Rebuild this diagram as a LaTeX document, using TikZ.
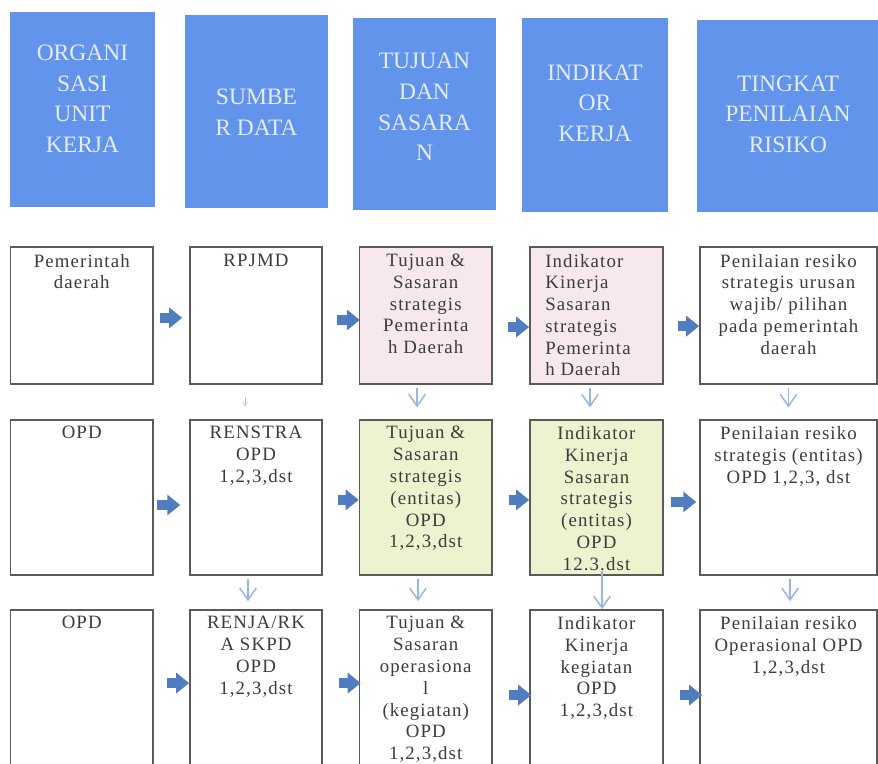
\documentclass[tikz,border=0pt]{standalone}
\usepackage{fontspec}
\setmainfont{Liberation Serif}
\newfontfamily\cellfont[LetterSpace=6]{Liberation Serif}
\usetikzlibrary{arrows.meta,positioning}

\definecolor{headblue}{RGB}{99,148,236}
\definecolor{headtext}{RGB}{226,236,250}
\definecolor{cellline}{RGB}{90,90,90}
\definecolor{celltext}{RGB}{60,60,60}
\definecolor{pinkfill}{RGB}{246,232,236}
\definecolor{limefill}{RGB}{238,242,206}
\definecolor{arrowblue}{RGB}{79,125,192}
\definecolor{downblue}{RGB}{152,182,230}

\tikzset{
  wd/.style={minimum width=#1*0.85pt},
  ht/.style={minimum height=#1*0.85pt},
  headbox/.style={fill=headblue, inner sep=0pt},
  headtxt/.style={text=headtext, align=center, inner sep=0pt, font=\fontsize{20pt}{26pt}\selectfont},
  cell/.style={draw=cellline, line width=1.4pt, fill=white, inner sep=0pt},
  celltxt/.style={text=celltext, align=center, inner sep=0pt, font=\cellfont\fontsize{16pt}{18.5pt}\selectfont},
  rarrow/.style={draw=arrowblue, line width=8.5pt, -{Triangle[width=17pt,length=11pt]}},
  darrow/.style={draw=downblue, line width=1.3pt, -{Straight Barb[width=14pt,length=10pt]}},
  faintarrow/.style={draw=gray!45, line width=0.6pt, -{Straight Barb[width=4pt,length=3pt]}}
}

\begin{document}
\begin{tikzpicture}[x=0.85pt, y=-0.85pt]
  \useasboundingbox (0,0) rectangle (878,764);
  \clip (0,0) rectangle (878,764);

  % Headers
  \node[headbox, wd=145, ht=195] (h1) at (82.5,109.5) {};
  \node[headbox, wd=143, ht=193] (h2) at (256.5,111.5) {};
  \node[headbox, wd=143, ht=192] (h3) at (424.5,114) {};
  \node[headbox, wd=146, ht=194] (h4) at (595,115) {};
  \node[headbox, wd=183, ht=192] (h5) at (788.5,116) {};
  \node[headtxt] (h1t) at (82.5,99) {ORGANI\\SASI\\UNIT\\KERJA};
  \node[headtxt] (h2t) at (256.5,112) {SUMBE\\R DATA};
  \node[headtxt] (h3t) at (424.5,107) {TUJUAN\\DAN\\SASARA\\N};
  \node[headtxt] (h4t) at (595,103) {INDIKAT\\OR\\KERJA};
  \node[headtxt] (h5t) at (788,114) {TINGKAT\\PENILAIAN\\RISIKO};

  % Row 1
  \node[cell, wd=142.5, ht=137] (r1c1) at (81.75,315.5) {};
  \node[cell, wd=132, ht=137] (r1c2) at (256,315.5) {};
  \node[cell, fill=pinkfill, wd=132.5, ht=137] (r1c3) at (425.75,315.5) {};
  \node[cell, fill=pinkfill, wd=133, ht=137] (r1c4) at (596.5,315.5) {};
  \node[cell, wd=177, ht=137] (r1c5) at (788.5,315.5) {};
  \node[celltxt, below=6.5pt of r1c1.north] (t11) {Pemerintah\\daerah};
  \node[celltxt, below=6.5pt of r1c2.north] (t12) {RPJMD};
  \node[celltxt, below=6.5pt of r1c3.north] (t13) {Tujuan \&\\Sasaran\\strategis\\Pemerinta\\h Daerah};
  \node[celltxt, align=left, anchor=north west] (t14) at ([shift={(13.5pt,-6.5pt)}]r1c4.north west)
    {Indikator\\Kinerja\\Sasaran\\strategis\\Pemerinta\\h Daerah};
  \node[celltxt, below=6.5pt of r1c5.north] (t15) {Penilaian resiko\\strategis urusan\\wajib/ pilihan\\pada pemerintah\\daerah};

  % Row 2
  \node[cell, wd=142.5, ht=155] (r2c1) at (81.75,497.5) {};
  \node[cell, wd=132, ht=155] (r2c2) at (256,497.5) {};
  \node[cell, fill=limefill, wd=132.5, ht=155] (r2c3) at (425.75,497.5) {};
  \node[cell, fill=limefill, wd=133, ht=155] (r2c4) at (596.5,497.5) {};
  \node[cell, wd=177, ht=155] (r2c5) at (788.5,497.5) {};
  \node[celltxt, below=6pt of r2c1.north] (t21) {OPD};
  \node[celltxt, below=6pt of r2c2.north] (t22) {RENSTRA\\OPD\\1,2,3,dst};
  \node[celltxt, below=6pt of r2c3.north] (t23) {Tujuan \&\\Sasaran\\strategis\\(entitas)\\OPD\\1,2,3,dst};
  \node[celltxt, below=6pt of r2c4.north] (t24) {Indikator\\Kinerja\\Sasaran\\strategis\\(entitas)\\OPD\\12.3.dst};
  \node[celltxt, below=6pt of r2c5.north] (t25) {Penilaian resiko\\strategis (entitas)\\OPD 1,2,3, dst};

  % Row 3
  \node[cell, wd=142.5, ht=156] (r3c1) at (81.75,688) {};
  \node[cell, wd=132, ht=156] (r3c2) at (256,688) {};
  \node[cell, wd=132.5, ht=156] (r3c3) at (425.75,688) {};
  \node[cell, wd=133, ht=156] (r3c4) at (596.5,688) {};
  \node[cell, wd=177, ht=156] (r3c5) at (788.5,688) {};
  \node[celltxt, below=6pt of r3c1.north] (t31) {OPD};
  \node[celltxt, below=6pt of r3c2.north] (t32) {RENJA/RK\\A SKPD\\OPD\\1,2,3,dst};
  \node[celltxt, below=6pt of r3c3.north] (t33) {Tujuan \&\\Sasaran\\operasiona\\l\\(kegiatan)\\OPD\\1,2,3,dst};
  \node[celltxt, below=6pt of r3c4.north] (t34) {Indikator\\Kinerja\\kegiatan\\OPD\\1,2,3,dst};
  \node[celltxt, below=6pt of r3c5.north] (t35) {Penilaian resiko\\Operasional OPD\\1,2,3,dst};

  % Arrows to the right
  \draw[rarrow] ([shift={(5pt,-2pt)}]r1c1.east) -- ([shift={(-6pt,-2pt)}]r1c2.west);
  \draw[rarrow] ([shift={(12pt,-3.8pt)}]r1c2.east) -- ([shift={(1pt,-3.8pt)}]r1c3.west);
  \draw[rarrow] ([shift={(12.8pt,-9.8pt)}]r1c3.east) -- ([shift={(0pt,-9.8pt)}]r1c4.west);
  \draw[rarrow] ([shift={(12pt,-9pt)}]r1c4.east) -- ([shift={(0pt,-9pt)}]r1c5.west);

  \draw[rarrow] ([shift={(2.5pt,-6.4pt)}]r2c1.east) -- ([shift={(-7.6pt,-6.4pt)}]r2c2.west);
  \draw[rarrow] ([shift={(12.8pt,-2pt)}]r2c2.east) -- ([shift={(0pt,-2pt)}]r2c3.west);
  \draw[rarrow] ([shift={(13.6pt,-2pt)}]r2c3.east) -- ([shift={(0pt,-2pt)}]r2c4.west);
  \draw[rarrow] ([shift={(6pt,-3.8pt)}]r2c4.east) -- ([shift={(-2.5pt,-3.8pt)}]r2c5.west);

  \draw[rarrow] ([shift={(11pt,4.2pt)}]r3c1.east) -- ([shift={(0pt,4.2pt)}]r3c2.west);
  \draw[rarrow] ([shift={(13.6pt,4.2pt)}]r3c2.east) -- ([shift={(1.7pt,4.2pt)}]r3c3.west);
  \draw[rarrow] ([shift={(13.6pt,-6pt)}]r3c3.east) -- ([shift={(1.7pt,-6pt)}]r3c4.west);
  \draw[rarrow] ([shift={(13.6pt,-6pt)}]r3c4.east) -- ([shift={(2.5pt,-6pt)}]r3c5.west);

  % Arrows down
  \draw[faintarrow] ([shift={(-9.4pt,-10pt)}]r1c2.south) -- ([shift={(-9.4pt,11pt)}]r2c2.north);
  \draw[darrow] ([shift={(-7.4pt,-2.5pt)}]r1c3.south) -- ([shift={(-7.4pt,10pt)}]r2c3.north);
  \draw[darrow] ([shift={(-5.5pt,-2.5pt)}]r1c4.south) -- ([shift={(-5.5pt,10pt)}]r2c4.north);
  \draw[darrow] ([shift={(0pt,-2.5pt)}]r1c5.south) -- ([shift={(0pt,10pt)}]r2c5.north);

  \draw[darrow] ([shift={(-6.8pt,-2.5pt)}]r2c2.south) -- ([shift={(-6.8pt,6.8pt)}]r3c2.north);
  \draw[darrow] ([shift={(-6.6pt,-2.5pt)}]r2c3.south) -- ([shift={(-6.6pt,6.8pt)}]r3c3.north);
  \draw[darrow] ([shift={(4.7pt,4.2pt)}]r2c4.south) -- ([shift={(4.7pt,0pt)}]r3c4.north);
  \draw[darrow] ([shift={(1.3pt,-2.5pt)}]r2c5.south) -- ([shift={(1.3pt,6.8pt)}]r3c5.north);

\end{tikzpicture}
\end{document}
